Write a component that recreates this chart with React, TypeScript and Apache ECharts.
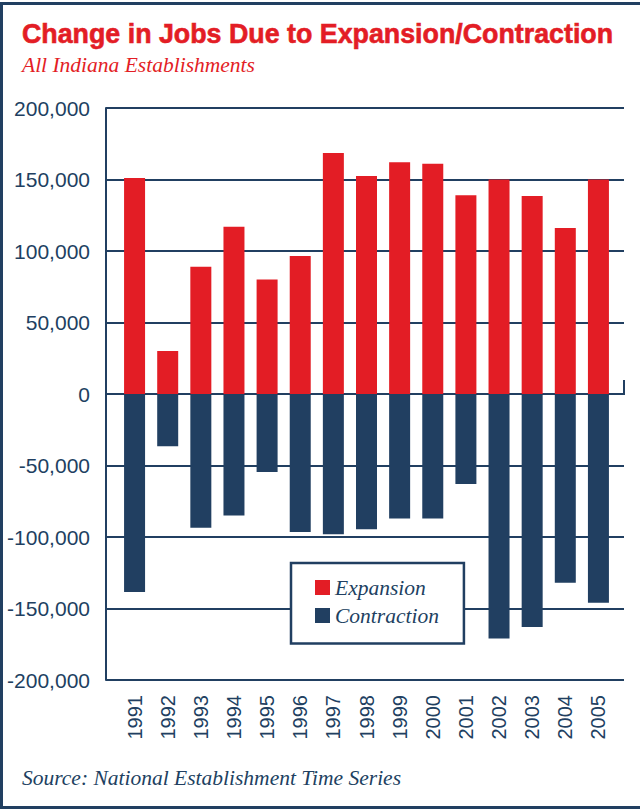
import React, { useEffect, useRef } from "react";
import * as echarts from "echarts";

const years = ["1991","1992","1993","1994","1995","1996","1997","1998","1999","2000","2001","2002","2003","2004","2005"];
const expansion = [151000, 30000, 89000, 117000, 80000, 96500, 168500, 152500, 162000, 161000, 139000, 150000, 138500, 116000, 150000];
const contraction = [-138500, -36500, -93500, -85000, -54500, -96500, -98000, -94500, -87000, -87000, -63000, -171000, -163000, -132000, -146000];
const yMin = -200000;
const yMax = 200000;
const yStep = 50000;

const RED = "#E31D25";
const NAVY = "#213F61";
const SANS = "'Liberation Sans', Arial, Helvetica, sans-serif";
const SERIF = "'Liberation Serif', 'Times New Roman', serif";

export default function App() {
  const ref = useRef<HTMLDivElement>(null);
  useEffect(() => {
    if (!ref.current) return;
    const chart = echarts.init(ref.current, null, { renderer: "svg" });
    const fmt = (v: number) => v.toLocaleString("en-US");
    chart.setOption({
      animation: false,
      backgroundColor: "#ffffff",
      grid: [
        { left: 106, right: 16, top: 108, bottom: 130 },
        { left: 118, right: 25, top: 108, bottom: 130 },
      ],
      xAxis: [
        { type: "category", data: years, gridIndex: 0, show: false },
        {
          type: "category",
          data: years,
          gridIndex: 1,
          axisLine: { show: false },
          axisTick: { show: false },
          axisLabel: {
            rotate: 90,
            margin: 15,
            fontSize: 20,
            color: NAVY,
            fontFamily: SANS,
          },
        },
      ],
      yAxis: [
        {
          type: "value",
          gridIndex: 0,
          min: yMin,
          max: yMax,
          interval: yStep,
          axisLine: { show: true, lineStyle: { color: NAVY, width: 2 } },
          axisTick: { show: false },
          splitLine: { show: true, lineStyle: { color: NAVY, width: 2 } },
          axisLabel: {
            margin: 16,
            fontSize: 21,
            color: NAVY,
            fontFamily: SANS,
            formatter: fmt,
          },
        },
        { type: "value", gridIndex: 1, min: yMin, max: yMax, interval: yStep, show: false },
      ],
      legend: {
        orient: "vertical",
        left: 291,
        top: 563,
        data: ["Expansion", "Contraction"],
        icon: "rect",
        itemWidth: 15,
        itemHeight: 15,
        itemGap: 6,
        itemTextGap: 6,
        padding: [13.5, 25, 17, 24],
        backgroundColor: "#ffffff",
        borderColor: NAVY,
        borderWidth: 2.5,
        borderRadius: 0,
        textStyle: {
          fontFamily: SERIF,
          fontStyle: "italic",
          fontSize: 21.5,
          color: NAVY,
        },
      },
      series: [
        {
          name: "Expansion",
          type: "bar",
          xAxisIndex: 1,
          yAxisIndex: 1,
          stack: "jobs",
          barWidth: 21,
          data: expansion,
          itemStyle: { color: RED },
        },
        {
          name: "Contraction",
          type: "bar",
          xAxisIndex: 1,
          yAxisIndex: 1,
          stack: "jobs",
          barWidth: 21,
          data: contraction,
          itemStyle: { color: NAVY },
        },
      ],
      graphic: [
        {
          type: "rect",
          z: 100,
          silent: true,
          shape: { x: 1.5, y: 3.5, width: 700, height: 804 },
          style: { fill: "none", stroke: NAVY, lineWidth: 3 },
        },
        {
          type: "line",
          z: 100,
          shape: { x1: 624, y1: 380, x2: 624, y2: 395 },
          style: { stroke: NAVY, lineWidth: 2 },
        },
        {
          type: "text",
          x: 22,
          y: 34,
          style: {
            text: "Change in Jobs Due to Expansion/Contraction",
            fill: RED,
            font: `bold 26.8px ${SANS}`,
            verticalAlign: "middle",
            stroke: RED,
            lineWidth: 0.6,
          },
        },
        {
          type: "text",
          x: 22,
          y: 65,
          style: {
            text: "All Indiana Establishments",
            fill: RED,
            font: `italic 21.5px ${SERIF}`,
            verticalAlign: "middle",
          },
        },
        {
          type: "text",
          x: 22,
          y: 777.5,
          style: {
            text: "Source: National Establishment Time Series",
            fill: NAVY,
            font: `italic 21.5px ${SERIF}`,
            verticalAlign: "middle",
          },
        },
      ],
    });
    return () => chart.dispose();
  }, []);
  return (
    <div
      ref={ref}
      style={{ position: "fixed", left: 0, top: 0, width: 640, height: 810 }}
    />
  );
}
